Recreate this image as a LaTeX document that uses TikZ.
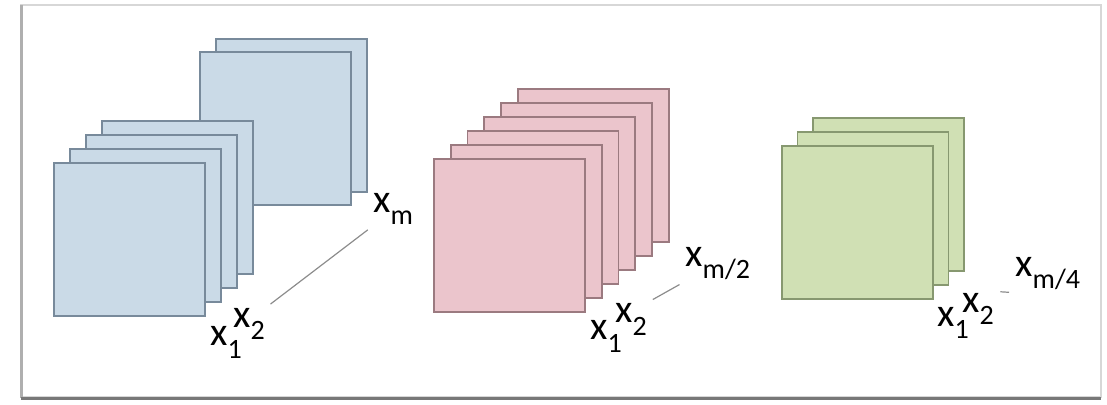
\documentclass[tikz,border=0pt]{standalone}
\usepackage{fontspec}
\setmainfont{Carlito}
\usepackage{tikz}
\usetikzlibrary{positioning}
\definecolor{bluefill}{RGB}{202,218,231}
\definecolor{blueedge}{RGB}{120,138,155}
\definecolor{pinkfill}{RGB}{235,197,204}
\definecolor{pinkedge}{RGB}{155,122,128}
\definecolor{greenfill}{RGB}{208,224,180}
\definecolor{greenedge}{RGB}{135,152,112}
\definecolor{framegray}{RGB}{215,215,215}
\definecolor{sidegray}{RGB}{175,175,175}
\definecolor{shadowgray}{RGB}{120,120,120}
\definecolor{linkgray}{RGB}{140,140,140}
\newcommand{\lowidx}[1]{\raisebox{-6pt}{\fontsize{14}{14}\selectfont #1}}
\tikzset{
  sheet/.style={rectangle, anchor=north west, inner sep=0pt,
    minimum width=75.5pt, minimum height=76.5pt, line width=0.9pt},
  bluesheet/.style={sheet, draw=blueedge, fill=bluefill},
  pinksheet/.style={sheet, draw=pinkedge, fill=pinkfill},
  greensheet/.style={sheet, draw=greenedge, fill=greenfill},
  idxlabel/.style={anchor=base west, inner sep=1pt,
    font=\fontsize{20}{24}\selectfont, text=black},
  idxline/.style={draw=linkgray, line width=0.6pt, shorten <=2pt, shorten >=2pt}
}

\begin{document}
\begin{tikzpicture}[x=0.5pt, y=-0.5pt]
  \useasboundingbox (0,0) rectangle (1107,405);
  % frame
  \draw[framegray, line width=1pt] (21,5) rectangle (1101,397);
  \draw[sidegray, line width=1.5pt] (21,5) -- (21,398);
  \draw[shadowgray, line width=1.5pt] (21,398) -- (1101,398);

  % blue stack, back part then front part
  \foreach \i/\x/\y in {6/215/38, 5/199/51, 4/101/120, 3/85/134, 2/69/148, 1/53/162}
    \node[bluesheet] (blue-\i) at (\x,\y) {};
  \node[idxlabel] (blue-x1) at (208,346) {x\lowidx{1}};
  \node[idxlabel] (blue-x2) at (231,328) {x\lowidx{2}};
  \node[idxlabel] (blue-xm) at (371,213) {x\lowidx{m}};
  \draw[idxline] (blue-x2.north east) -- (blue-xm.south west);

  % pink stack
  \foreach \i in {6,...,1}
    \node[pinksheet] (pink-\i) at ({433+16.8*(\i-1)},{158-14*(\i-1)}) {};
  \node[idxlabel] (pink-x1) at (588,340) {x\lowidx{1}};
  \node[idxlabel] (pink-x2) at (613,323) {x\lowidx{2}};
  \node[idxlabel] (pink-xm) at (683,267) {x\lowidx{m/2}};
  \draw[idxline] (pink-x2.north east) -- (pink-xm.south west);

  % green stack
  \foreach \i in {3,2,1}
    \node[greensheet] (green-\i) at ({781+15.5*(\i-1)},{145-14*(\i-1)}) {};
  \node[idxlabel] (green-x1) at (935,327) {x\lowidx{1}};
  \node[idxlabel] (green-x2) at (960,313) {x\lowidx{2}};
  \node[idxlabel] (green-xm) at (1013,277) {x\lowidx{m/4}};
  \draw[idxline] (green-x2.north east) -- (green-xm.south west);
\end{tikzpicture}
\end{document}
